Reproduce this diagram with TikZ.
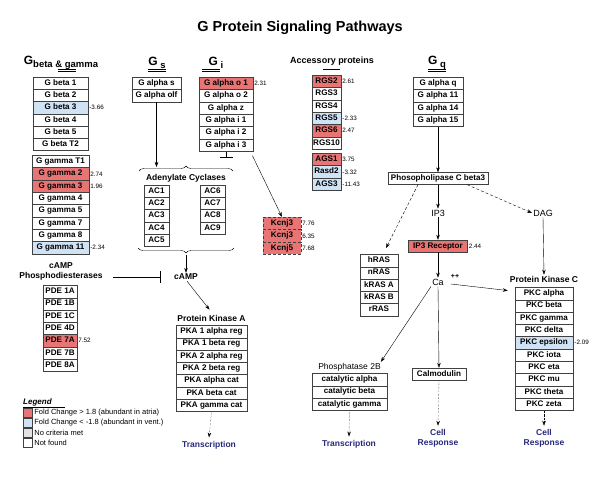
\documentclass[tikz,border=0pt]{standalone}
\usepackage{fontspec}
\setmainfont{Liberation Sans}
\setsansfont{Liberation Sans}
\usetikzlibrary{matrix,positioning,arrows.meta,decorations.pathreplacing}
\definecolor{upred}{HTML}{E87474}
\definecolor{downblue}{HTML}{CFE3F5}
\definecolor{nocrit}{HTML}{E2E2E2}
\definecolor{outnavy}{HTML}{27297A}
\newcommand{\ghead}[1]{{\fontsize{12}{12}\selectfont G}\raisebox{-2.5pt}{\fontsize{9.5}{10}\selectfont #1}}
\tikzset{
  every picture/.style={font={\sffamily\bfseries\fontsize{8.1}{9}\selectfont}, >={Stealth[length=5pt,width=3.5pt]}},
  up/.style={fill=upred},
  down/.style={fill=downblue}}

\begin{document}
\begin{tikzpicture}[x=1pt, y=-1pt,
    genestack/.style={
      matrix of nodes,
      anchor=north,
      inner sep=0pt,
      row sep=-\pgflinewidth,
      nodes={
        draw=black!75,
        minimum width=#1,
        minimum height=12.3pt,
        inner sep=0pt,
        text height=5.8pt,
        text depth=1.6pt}},
    onebox/.style={draw=black!75, minimum height=12pt, inner sep=2pt, text height=5.8pt, text depth=1.6pt},
    value/.style={anchor=west, inner sep=1pt, font={\mdseries\fontsize{6.3}{7}\selectfont}},
    heading/.style={font={\bfseries\fontsize{9}{10}\selectfont}},
    grouplabel/.style={inner sep=1pt, font={\bfseries\fontsize{8.5}{9.5}\selectfont}},
    signal/.style={inner sep=1pt, font={\mdseries\fontsize{9}{10}\selectfont}},
    outcome/.style={text=outnavy, align=center, font={\bfseries\fontsize{8.5}{10.5}\selectfont}},
    legendbox/.style={draw=black!75, minimum size=9pt, inner sep=0pt},
    legendtext/.style={anchor=west, inner sep=1pt, font={\mdseries\fontsize{7.5}{8}\selectfont}}]

    \useasboundingbox (0,0) rectangle (600,481);

    \node[font={\bfseries\fontsize{14.5}{15}\selectfont}] (title) at (300,28) {G Protein Signaling Pathways};

    % headings
    \node[heading] (hbg) at (61,63) {\ghead{beta \& gamma}};
    \node[heading] (hgs) at (157,63) {\ghead{ s}};
    \node[heading] (hgi) at (216,63) {\ghead{ i}};
    \node[heading] (hacc) at (332,61) {Accessory proteins};
    \node[heading] (hgq) at (437,63) {\ghead{ q}};
    \foreach \x in {67,157,211,437}
      \draw (\x-9,69.5) -- (\x+9,69.5) (\x-9,71.5) -- (\x+9,71.5);
    \draw (323,69) -- (340,69);

    % gene stacks
    \matrix[genestack=55pt] (gbeta) at (60.5,76.5) {
      G beta 1 \\ G beta 2 \\ |[down]| G beta 3 \\ G beta 4 \\ G beta 5 \\ G beta T2 \\
    };
    \matrix[genestack=57pt] (ggamma) at (60.5,155) {
      G gamma T1 \\ |[up]| G gamma 2 \\ |[up]| G gamma 3 \\ G gamma 4 \\
      G gamma 5 \\ G gamma 7 \\ G gamma 8 \\ |[down]| G gamma 11 \\
    };
    \matrix[genestack=49pt] (gs) at (156.5,77) {
      G alpha s \\ G alpha olf \\
    };
    \matrix[genestack=54pt] (gi) at (226,77) {
      |[up]| G alpha o 1 \\ G alpha o 2 \\ G alpha z \\ G alpha i 1 \\ G alpha i 2 \\ G alpha i 3 \\
    };
    \matrix[genestack=29pt] (rgs) at (326.5,75) {
      |[up]| RGS2 \\ RGS3 \\ RGS4 \\ |[down]| RGS5 \\ |[up]| RGS6 \\ RGS10 \\
    };
    \matrix[genestack=29pt] (ags) at (326.5,153) {
      |[up]| AGS1 \\ |[down]| Rasd2 \\ |[down]| AGS3 \\
    };
    \matrix[genestack=50pt] (gq) at (438,77) {
      G alpha q \\ G alpha 11 \\ G alpha 14 \\ G alpha 15 \\
    };
    \matrix[genestack=25pt] (acleft) at (156.5,184.5) {
      AC1 \\ AC2 \\ AC3 \\ AC4 \\ AC5 \\
    };
    \matrix[genestack=25pt] (acright) at (212.5,184.5) {
      AC6 \\ AC7 \\ AC8 \\ AC9 \\
    };
    \matrix[genestack=38pt, nodes={up, densely dashed}] (kcnj) at (282,217) {
      Kcnj3 \\ Kcnj3 \\ Kcnj5 \\
    };
    \matrix[genestack=34pt] (pde) at (60,285) {
      PDE 1A \\ PDE 1B \\ PDE 1C \\ PDE 4D \\ |[up]| PDE 7A \\ PDE 7B \\ PDE 8A \\
    };
    \matrix[genestack=71pt] (pka) at (211.5,325) {
      PKA 1 alpha reg \\ PKA 1 beta reg \\ PKA 2 alpha reg \\ PKA 2 beta reg \\
      PKA alpha cat \\ PKA beta cat \\ PKA gamma cat \\
    };
    \matrix[genestack=38pt] (ras) at (379,254) {
      hRAS \\ nRAS \\ kRAS A \\ kRAS B \\ rRAS \\
    };
    \matrix[genestack=75pt] (pp2b) at (349.5,373) {
      catalytic alpha \\ catalytic beta \\ catalytic gamma \\
    };
    \matrix[genestack=58pt] (pkc) at (544,287) {
      PKC alpha \\ PKC beta \\ PKC gamma \\ PKC delta \\ |[down]| PKC epsilon \\
      PKC iota \\ PKC eta \\ PKC mu \\ PKC theta \\ PKC zeta \\
    };

    \node[onebox, minimum width=100pt] (plc) at (438,178.5) {Phosopholipase C beta3};
    \node[onebox, up, minimum width=59pt] (ip3r) at (438,246) {IP3 Receptor};
    \node[onebox, minimum width=54pt] (calm) at (439,374) {Calmodulin};

    % fold changes
    \foreach \n/\v in {gbeta-3-1/-3.66, ggamma-2-1/2.74, ggamma-3-1/1.96, ggamma-8-1/-2.34,
        gi-1-1/2.31, rgs-1-1/2.61, rgs-4-1/-2.33, rgs-5-1/2.47, ags-1-1/3.75, ags-2-1/-3.32,
        ags-3-1/-11.43, kcnj-1-1/7.76, kcnj-2-1/6.35, kcnj-3-1/7.68, pde-5-1/7.52,
        pkc-5-1/-2.09, ip3r/2.44}
      \node[value] (val-\n) at (\n.east) {\v};

    % labels
    \node[grouplabel] (aclab) at (186,178) {Adenylate Cyclases};
    \node[grouplabel] (camp) at (186,277) {cAMP};
    \node[grouplabel, align=center] (pdelab) at (61,271.5) {cAMP\\Phosphodiesterases};
    \node[grouplabel] (pkalab) at (211.5,318) {Protein Kinase A};
    \node[grouplabel, font={\mdseries\fontsize{8.5}{9.5}\selectfont}] (pp2blab) at (349.5,367) {Phosphatase 2B};
    \node[grouplabel] (pkclab) at (544,279) {Protein Kinase C};
    \node[signal] (ip3) at (438,213) {IP3};
    \node[signal] (dag) at (543,213) {DAG};
    \node[signal] (ca) at (438,282) {Ca};
    \node[inner sep=0pt, font={\bfseries\fontsize{7}{7}\selectfont}] (capp) at (455,276) {++};

    \node[outcome] (trpka) at (209,445) {Transcription};
    \node[outcome] (trpp) at (349,444) {Transcription};
    \node[outcome] (crcalm) at (438,438.5) {Cell\\Response};
    \node[outcome] (crpkc) at (544,438.5) {Cell\\Response};

    % braces round the cyclases
    \coordinate (actopl) at (139,171);
    \coordinate (actopr) at (233,171);
    \coordinate (acbotl) at (138,248);
    \coordinate (acbotr) at (234,248);
    \coordinate (acin) at (156.5,167);
    \coordinate (acout) at (186,255);
    \coordinate (gibar) at (226,157);
    \coordinate (pdeout) at (113,277);
    \coordinate (pdebar) at (160,277);
    \draw[decorate, decoration={brace, amplitude=5pt}] (actopl) -- (actopr);
    \draw[decorate, decoration={brace, amplitude=5pt}] (acbotr) -- (acbotl);

    % connectors
    \draw[->] (gs.south) -- (acin);
    \draw[-{Bar[width=13pt]}] (gi.south) -- (gibar);
    \draw[->] ([shift={(-1pt,-4pt)}]gi.south east) -- (kcnj.north);
    \draw[->] (acout) -- (camp.north);
    \draw[-{Bar[width=12pt]}] (pdeout) -- (pdebar);
    \draw[->] ([xshift=1pt]camp.south) -- ([shift={(-2pt,4pt)}]pkalab.north);
    \draw[->, densely dotted] (pka.south) -- (trpka.north);
    \draw[->] (gq.south) -- (plc.north);
    \draw[->] (plc.south) -- (ip3.north);
    \draw[->] (ip3.south) -- (ip3r.north);
    \draw[->] (ip3r.south) -- (ca.north);
    \draw[->, densely dashed] ([xshift=-20pt]plc.south) -- ([shift={(7pt,6pt)}]ras.north);
    \draw[->, densely dashed] ([xshift=-21pt]plc.south east) -- (dag.west);
    \draw[->] (dag.south) -- (pkclab.north);
    \draw[->] ([shift={(6pt,-2pt)}]ca.east) -- ([shift={(-7pt,3pt)}]pkc-1-1.west);
    \draw[->] (ca.south west) -- ([xshift=-1pt]pp2blab.north east);
    \draw[->] (ca.south) -- (calm.north);
    \draw[->, densely dotted] (calm.south) -- (crcalm.north);
    \draw[->, densely dotted] (pp2b.south) -- (trpp.north);
    \draw[->, densely dotted] (pkc.south) -- (crpkc.north);

    % legend
    \node[anchor=west, inner sep=0pt, font={\bfseries\itshape\fontsize{8}{9}\selectfont}] (legendtitle) at (23,402) {Legend};
    \draw ([yshift=-1.5pt]legendtitle.south west) -- ++(42pt,0);
    \foreach \fillc/\txt [count=\i] in {upred/Fold Change > 1.8 (abundant in atria),
        downblue/Fold Change < -1.8 (abundant in vent.), nocrit/No criteria met, white/Not found} {
      \node[legendbox, fill=\fillc] (key\i) at (27.5,403+10*\i) {};
      \node[legendtext, right=1pt of key\i] (keytext\i) {\txt};
    }
  \end{tikzpicture}
\end{document}
